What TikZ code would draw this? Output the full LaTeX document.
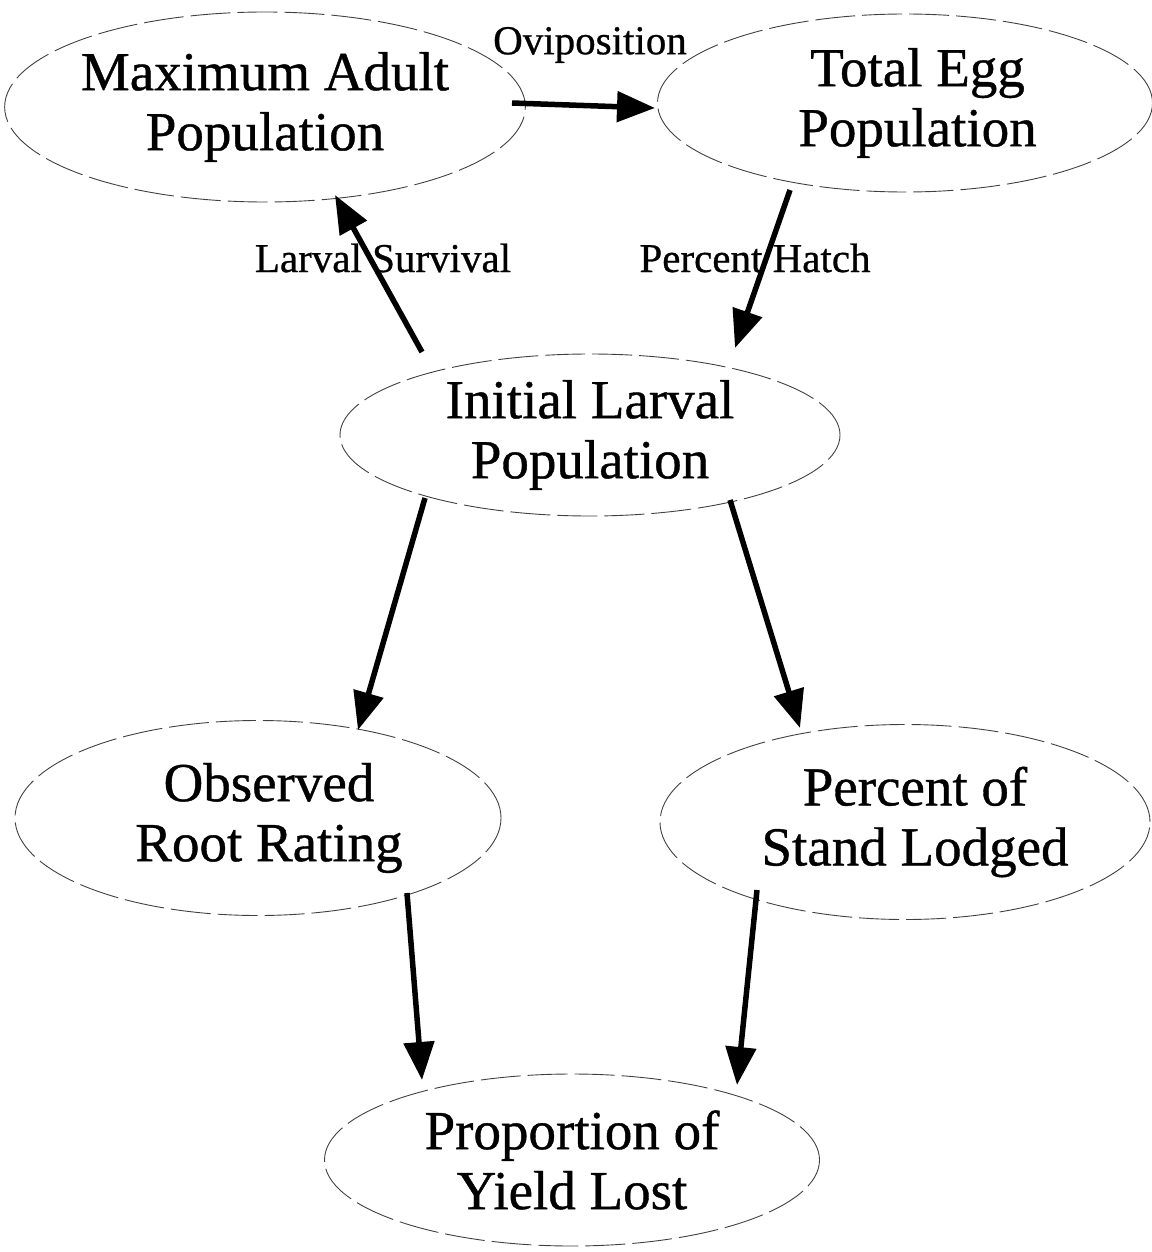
\documentclass[tikz,border=0pt]{standalone}
\usepackage{fontspec}
\setmainfont{Liberation Serif}[BoldFont=Liberation Serif,BoldFeatures={FakeBold=0.7}]
\usetikzlibrary{shapes.geometric,arrows.meta}
\begin{document}
\begin{tikzpicture}[x=1pt,y=-1pt,
  state/.style={ellipse,draw=black!75,line width=0.9pt,dash pattern=on 40pt off 7pt,inner sep=0pt,
    font=\fontsize{55}{60}\selectfont\bfseries,align=center},
  lbl/.style={font=\fontsize{41}{45}\selectfont\bfseries,inner sep=0pt},
  flow/.style={line width=5.5pt,-{Triangle[length=38pt,width=30pt]}}]
\useasboundingbox (0,0) rectangle (1151,1252);
\node[state,minimum width=500pt,minimum height=190pt] (ad) at (265,107) {Maximum Adult\\Population};
\node[state,minimum width=495pt,minimum height=178pt] (eg) at (905,103) {\hspace*{25pt}Total Egg\\\hspace*{25pt}Population};
\node[state,minimum width=500pt,minimum height=162pt] (il) at (590,435) {Initial Larval\\Population};
\node[state,minimum width=486pt,minimum height=195pt] (rr) at (258,818) {\hspace*{22pt}Observed\\\hspace*{22pt}Root Rating};
\node[state,minimum width=490pt,minimum height=195pt] (sl) at (905,822) {\hspace*{20pt}Percent of\\\hspace*{20pt}Stand Lodged};
\node[state,minimum width=495pt,minimum height=172pt] (yl) at (572,1160) {Proportion of\\Yield Lost};
% arrow end points
\coordinate (adE) at ([shift={(247,-4)}]ad.center);
\coordinate (egW) at ([shift={(-250,5)}]eg.center);
\coordinate (adS) at ([shift={(70,88)}]ad.center);
\coordinate (ilNW) at ([shift={(-168,-83)}]il.center);
\coordinate (egS) at ([shift={(-115,87)}]eg.center);
\coordinate (ilNE) at ([shift={(145,-87)}]il.center);
\coordinate (ilSW) at ([shift={(-165,63)}]il.center);
\coordinate (rrN) at ([shift={(100,-88)}]rr.center);
\coordinate (ilSE) at ([shift={(140,65)}]il.center);
\coordinate (slN) at ([shift={(-105,-94)}]sl.center);
\coordinate (rrS) at ([shift={(149,75)}]rr.center);
\coordinate (ylNW) at ([shift={(-150,-80)}]yl.center);
\coordinate (slS) at ([shift={(-148,68)}]sl.center);
\coordinate (ylNE) at ([shift={(165,-75)}]yl.center);
\draw[flow] (adE) -- (egW);
\draw[flow] (ilNW) -- (adS);
\draw[flow] (egS) -- (ilNE);
\draw[flow] (ilSW) -- (rrN);
\draw[flow] (ilSE) -- (slN);
\draw[flow] (rrS) -- (ylNW);
\draw[flow] (slS) -- (ylNE);
\node[lbl] (ov) at (590,45) {Oviposition};
\node[lbl] (ls) at (383,258) {Larval Survival};
\node[lbl] (ph) at (755,258) {Percent Hatch};
\end{tikzpicture}
\end{document}
